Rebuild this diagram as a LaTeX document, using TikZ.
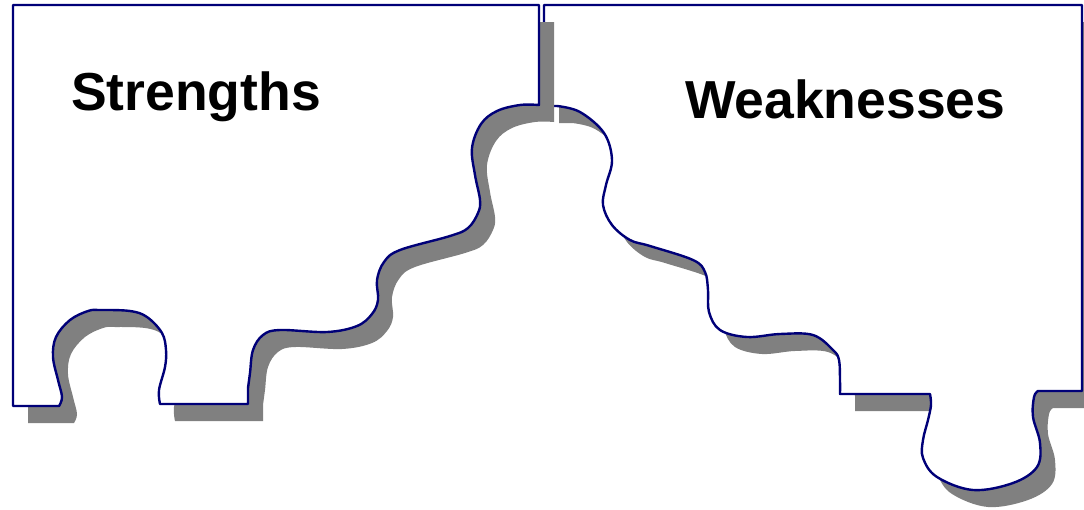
\documentclass[tikz,border=0pt]{standalone}
\usepackage{fontspec}
\setmainfont{Liberation Sans}
\definecolor{piecenavy}{HTML}{000078}
\definecolor{shadowgray}{HTML}{808080}
% Outline of the left puzzle piece (units: 1pt, y grows downwards)
\newcommand{\strengthsoutline}{(13,5) -- (539,5) -- (539,105)
  -- plot[smooth,tension=0.6] coordinates {(539,105) (520,105) (497,111) (481,124) (472,148) (475,175) (480,200) (478,213) (468,228) (450,236) (400,250) (384,262) (377,280) (378,300) (372,314) (357,326) (327,332) (280,330) (263,335) (253,350) (250,373) (248,388)}
  -- (248,404) -- (160,404)
  -- plot[smooth,tension=0.6] coordinates {(160,404) (159,390) (165,367) (166,350) (162,333) (147,317) (130,311) (100,310) (88,311) (70,320) (56,337) (53,357) (58,380) (62,397) (59,406)}
  -- (13,406) -- cycle}
% Outline of the right puzzle piece
\newcommand{\weaknessesoutline}{(544,5) -- (1082,5) -- (1082,391) -- (1038,391)
  -- plot[smooth,tension=0.6] coordinates {(1038,391) (1034,397) (1033,417) (1040,443) (1037,467) (1013,483) (973,490) (937,477) (923,458) (923,440) (928,420) (931,405) (930,394)}
  -- (840,394)
  -- plot[smooth,tension=0.6] coordinates {(840,394) (840,380) (839,360) (833,350) (813,335) (780,334) (747,337) (720,330) (709,312) (708,290) (705,272) (693,260) (650,246) (630,240) (612,225) (603,205) (606,185) (612,160) (604,133) (580,112) (557,106)}
  -- (544,106) -- cycle}
\tikzset{
  piece/.style={fill=white, draw=piecenavy, line width=2.4pt, line join=round},
  pieceshadow/.style={fill=shadowgray, shift={(15,17)}},
  title/.style={font=\fontsize{53.5}{60}\selectfont\bfseries, inner sep=0pt, anchor=base west}
}
\begin{document}
\begin{tikzpicture}[x=1pt,y=-1pt]
  \useasboundingbox (0,0) rectangle (1084,509);
  % right piece with its drop shadow
  \fill[pieceshadow] \weaknessesoutline;
  \path[piece] \weaknessesoutline;
  % left piece with its drop shadow
  \fill[pieceshadow] \strengthsoutline;
  \path[piece] \strengthsoutline;
  % labels
  \node[title] (strengths) at (71,110) {Strengths};
  \node[title] (weaknesses) at (685,118) {Weaknesses};
\end{tikzpicture}
\end{document}
